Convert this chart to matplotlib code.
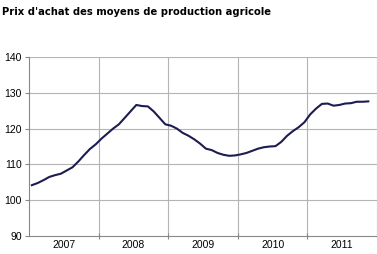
import matplotlib
matplotlib.use("Agg")
import matplotlib.pyplot as plt
import numpy as np

title = "Prix d'achat des moyens de production agricole"
years = ["2007", "2008", "2009", "2010", "2011"]
# monthly index, Jan 2007 - Nov 2011
values = [
    104.2, 104.8, 105.6, 106.5, 107.0, 107.4, 108.3, 109.2, 110.8, 112.6, 114.3, 115.6,
    117.2, 118.6, 120.0, 121.2, 123.0, 124.8, 126.6, 126.3, 126.2, 124.8, 123.0, 121.2,
    120.8, 120.0, 118.8, 118.0, 117.0, 115.8, 114.4, 114.0, 113.2, 112.7, 112.4, 112.5,
    112.8, 113.2, 113.8, 114.4, 114.8, 115.0, 115.1, 116.3, 118.0, 119.3, 120.4, 121.8,
    124.0, 125.6, 126.9, 127.0, 126.4, 126.6, 127.0, 127.1, 127.5, 127.5, 127.6,
]
yticks = [90, 100, 110, 120, 130, 140]

W, H = 377, 254
fig = plt.figure(figsize=(W / 100, H / 100), dpi=100)
fig.patch.set_facecolor("white")
left, right, top, bottom = 29, 377, 57, 236
ax = fig.add_axes([left / W, (H - bottom) / H, (right - left) / W, (bottom - top) / H])

x = np.arange(len(values))
ax.plot(x, values, color="#1c1c50", lw=1.5, solid_joinstyle="round")

ax.set_ylim(90, 140)
ax.set_xlim(-0.5, -0.5 + (right - left) / 5.86)
ax.set_yticks(yticks)
ax.set_yticklabels([str(v) for v in yticks], fontsize=7.5, family="Liberation Sans")

bounds = [-0.5 + 12 * k for k in range(1, 6)]
ax.set_xticks(bounds)
ax.set_xticklabels([])
ax.set_xticks([5.5 + 12 * k for k in range(5)], minor=True)
ax.set_xticklabels(years, minor=True, fontsize=7.5, family="Liberation Sans")
ax.tick_params(axis="x", which="minor", length=0, pad=3)
ax.tick_params(axis="x", which="major", length=4, direction="inout", color="#888888")
ax.tick_params(axis="y", length=3, direction="out", color="#888888", pad=2)

for v in yticks[1:]:
    ax.axhline(v, color="#b4b4b4", lw=0.8, zorder=0)
for b in bounds:
    ax.axvline(b, color="#b4b4b4", lw=0.8, zorder=0)

for s in ["top", "right"]:
    ax.spines[s].set_visible(False)
for s in ["left", "bottom"]:
    ax.spines[s].set_color("#888888")
    ax.spines[s].set_linewidth(0.8)

fig.text(2 / W, 1 - 12 / H, title, fontsize=7.2, fontweight="bold",
         family="DejaVu Sans", va="center", ha="left")

fig.savefig("out.png", dpi=100)
